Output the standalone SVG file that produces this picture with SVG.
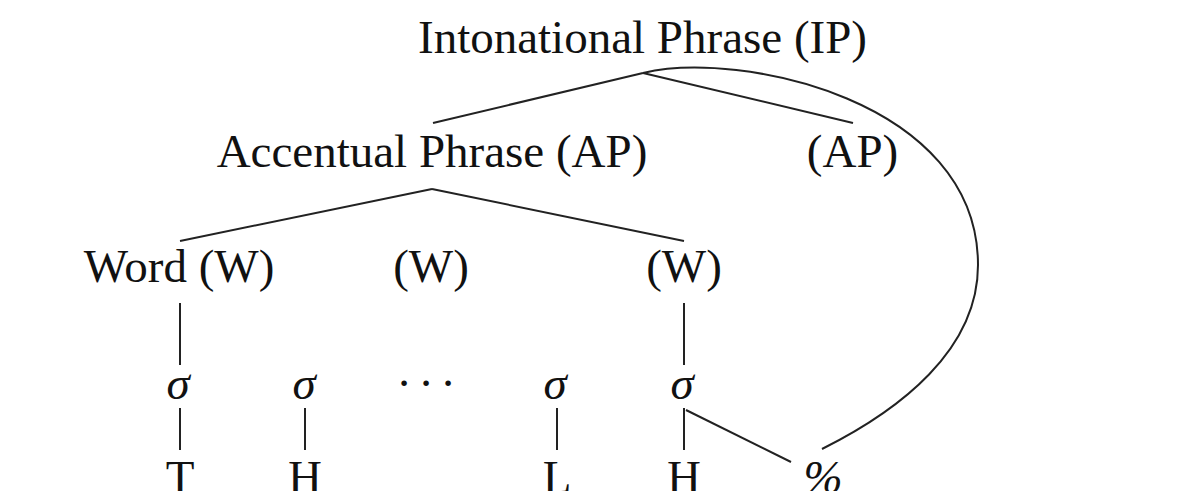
<svg xmlns="http://www.w3.org/2000/svg" width="1200" height="491" viewBox="0 0 1200 491">
<style>
text{font-family:"Liberation Serif","Times New Roman",serif;font-size:47px;fill:#111;text-anchor:middle}
.it{font-style:italic}
.c{stroke:#222;stroke-width:2;fill:none;stroke-linecap:butt}
</style>
<rect width="1200" height="491" fill="#fff"/>
<g id="connectors">
<line class="c" x1="643" y1="73" x2="433" y2="123"/>
<line class="c" x1="643" y1="73" x2="853" y2="123"/>
<path class="c" d="M643 73 C740 50 978 100 978 265 C978 350 900 410 822 449"/>
<line class="c" x1="432" y1="189" x2="180" y2="241"/>
<line class="c" x1="432" y1="189" x2="684" y2="241"/>
<line class="c" x1="180" y1="303" x2="180" y2="365"/>
<line class="c" x1="684" y1="303" x2="684" y2="365"/>
<line class="c" x1="180" y1="408" x2="180" y2="450"/>
<line class="c" x1="305" y1="408" x2="305" y2="450"/>
<line class="c" x1="557" y1="408" x2="557" y2="450"/>
<line class="c" x1="684" y1="408" x2="684" y2="450"/>
<line class="c" x1="686" y1="410" x2="791" y2="462"/>
</g>
<g id="ip"><text x="642.5" y="53">Intonational Phrase (IP)</text></g>
<g id="ap1"><text x="432" y="167">Accentual Phrase (AP)</text></g>
<g id="ap2"><text x="852.5" y="167">(AP)</text></g>
<g id="w1"><text x="179" y="282">Word (W)</text></g>
<g id="w2"><text x="431" y="282">(W)</text></g>
<g id="w3"><text x="684" y="282">(W)</text></g>
<g id="s1"><text class="it" x="178" y="399">σ</text></g>
<g id="s2"><text class="it" x="304" y="399">σ</text></g>
<g id="dots"><text x="404 426 448" y="399">···</text></g>
<g id="s3"><text class="it" x="555" y="399">σ</text></g>
<g id="s4"><text class="it" x="682" y="399">σ</text></g>
<g id="t1"><text x="180" y="493">T</text></g>
<g id="t2"><text x="305" y="493">H</text></g>
<g id="t3"><text x="557" y="493">L</text></g>
<g id="t4"><text x="684" y="493">H</text></g>
<g id="t5"><text class="it" x="823" y="493">%</text></g>
</svg>
